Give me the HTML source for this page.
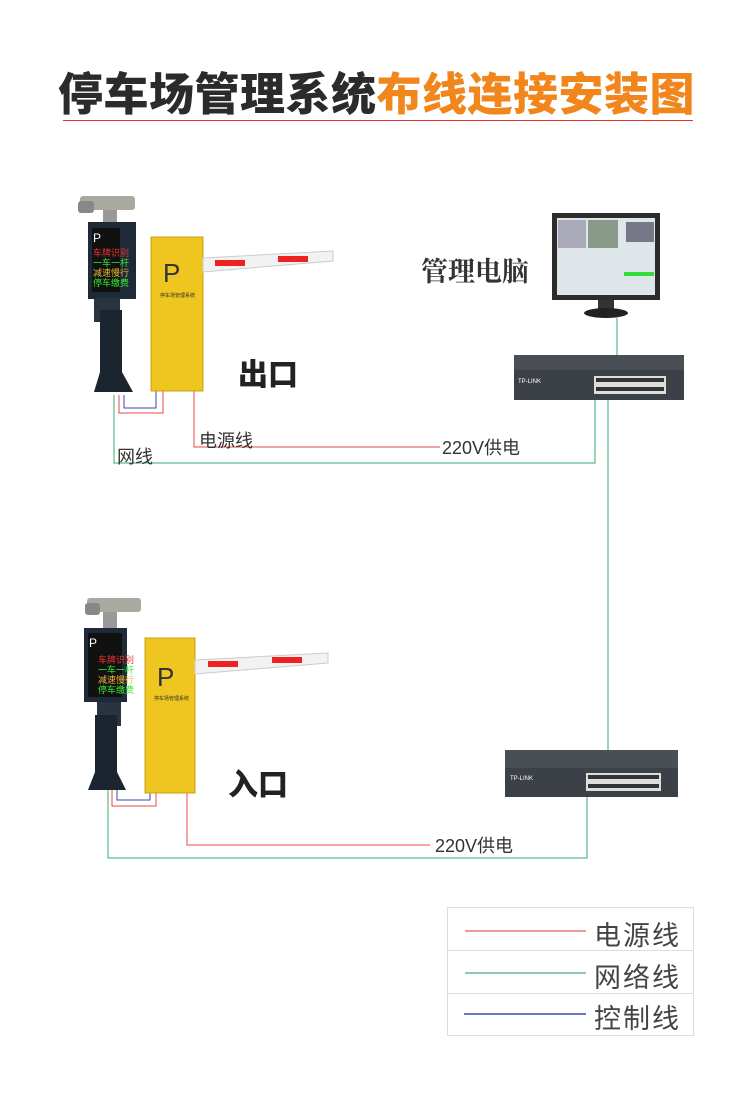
<!DOCTYPE html>
<html><head><meta charset="utf-8"><style>
body{margin:0;width:750px;height:1101px;background:#fff;position:relative;overflow:hidden;font-family:"Liberation Sans","Noto Sans CJK SC",sans-serif}
.a{position:absolute}
.t{font-family:"Noto Sans CJK SC",sans-serif;font-weight:900}
</style></head><body>
<div class="a t" style="left:58px;top:58px;font-size:45px;letter-spacing:0.5px;white-space:nowrap;line-height:66px;color:#2b2b2b">停车场管理系统<span style="color:#f0861c">布线连接安装图</span></div>
<div class="a" style="left:63px;top:120px;width:630px;height:1px;background:#e03030"></div>

<svg class="a" style="left:0;top:0" width="750" height="1101">
<polyline points="124,395 124,408 156,408 156,391" fill="none" stroke="#3a4aa8" stroke-width="1"/>
<polyline points="119,395 119,413 163,413 163,391" fill="none" stroke="#e84a4a" stroke-width="1"/>
<polyline points="194,391 194,447 440,447" fill="none" stroke="#e84a4a" stroke-width="1"/>
<polyline points="114,395 114,463 595,463 595,400" fill="none" stroke="#3aa870" stroke-width="1"/>
<line x1="608" y1="400" x2="608" y2="760" stroke="#3aa870"/>
<line x1="617" y1="318" x2="617" y2="380" stroke="#3aa870"/>
<polyline points="117,790 117,800 150,800 150,793" fill="none" stroke="#3a4aa8"/>
<polyline points="112,790 112,806 156,806 156,793" fill="none" stroke="#e84a4a"/>
<polyline points="187,793 187,845 430,845" fill="none" stroke="#e84a4a"/>
<polyline points="108,790 108,858 587,858 587,797" fill="none" stroke="#3aa870"/>

<rect x="80" y="196" width="55" height="14" rx="3" fill="#a9a9a0"/><rect x="78" y="201" width="16" height="12" rx="3" fill="#888"/>
<rect x="103" y="210" width="14" height="12" fill="#999"/>
<rect x="88" y="222" width="48" height="77" fill="#1e2a38"/>
<rect x="92" y="228" width="28" height="64" fill="#111"/>
<text x="93" y="242" font-size="12" fill="#fff">P</text>
<text x="93" y="256" font-size="9" fill="#e33">车牌识别</text>
<text x="93" y="266" font-size="9" fill="#3e3">一车一杆</text>
<text x="93" y="276" font-size="9" fill="#eb3">减速慢行</text>
<text x="93" y="286" font-size="9" fill="#3e3">停车缴费</text>
<rect x="94" y="298" width="26" height="24" fill="#2a3340"/>
<rect x="100" y="310" width="22" height="66" fill="#1b2530"/>
<polygon points="100,372 122,372 133,392 94,392" fill="#1b2530"/>
<rect x="151" y="237" width="52" height="154" fill="#efc51f" stroke="#c9a010"/>
<text x="163" y="282" font-size="26" fill="#333">P</text>
<text x="160" y="297" font-size="5" fill="#333">停车场管理系统</text>
<polygon points="203,258 333,251 333,261 203,272" fill="#f2f2f2" stroke="#ccc"/>
<rect x="215" y="260" width="30" height="6" fill="#e22"/><rect x="278" y="256" width="30" height="6" fill="#e22"/>
<rect x="552" y="213" width="108" height="87" fill="#2c2c2c"/>
<rect x="557" y="218" width="98" height="77" fill="#dfe6ea"/>
<rect x="558" y="220" width="28" height="28" fill="#aab"/><rect x="588" y="220" width="30" height="28" fill="#8a9a8a"/><rect x="626" y="222" width="28" height="20" fill="#778"/>
<rect x="624" y="272" width="30" height="4" fill="#3d3"/>
<rect x="598" y="300" width="16" height="10" fill="#333"/><ellipse cx="606" cy="313" rx="22" ry="5" fill="#222"/>
<rect x="514" y="355" width="170" height="18" fill="#4a4f56"/><rect x="514" y="370" width="170" height="30" fill="#3c4148"/>
<rect x="594" y="376" width="72" height="18" fill="#ddd"/>
<g fill="#333"><rect x="596" y="378" width="68" height="4"/><rect x="596" y="387" width="68" height="4"/></g>
<text x="518" y="383" font-size="6" fill="#fff">TP-LINK</text>
<rect x="505" y="750" width="173" height="20" fill="#4a4f56"/><rect x="505" y="768" width="173" height="29" fill="#3c4148"/>
<rect x="586" y="773" width="75" height="18" fill="#ddd"/>
<g fill="#333"><rect x="588" y="775" width="71" height="4"/><rect x="588" y="784" width="71" height="4"/></g>
<text x="510" y="780" font-size="6" fill="#fff">TP-LINK</text>

<rect x="87" y="598" width="54" height="14" rx="3" fill="#a9a9a0"/><rect x="85" y="603" width="15" height="12" rx="3" fill="#888"/>
<rect x="103" y="612" width="14" height="16" fill="#999"/>
<rect x="84" y="628" width="43" height="74" fill="#1e2a38"/>
<rect x="88" y="633" width="34" height="64" fill="#111"/>
<text x="89" y="647" font-size="12" fill="#fff">P</text>
<text x="98" y="663" font-size="9" fill="#e33">车牌识别</text>
<text x="98" y="673" font-size="9" fill="#3e3">一车一杆</text>
<text x="98" y="683" font-size="9" fill="#eb3">减速慢行</text>
<text x="98" y="693" font-size="9" fill="#3e3">停车缴费</text>
<rect x="97" y="702" width="24" height="24" fill="#2a3340"/>
<rect x="95" y="715" width="22" height="62" fill="#1b2530"/>
<polygon points="95,772 117,772 126,790 88,790" fill="#1b2530"/>
<rect x="145" y="638" width="50" height="155" fill="#efc51f" stroke="#c9a010"/>
<text x="157" y="686" font-size="26" fill="#333">P</text>
<text x="154" y="700" font-size="5" fill="#333">停车场管理系统</text>
<polygon points="195,660 328,653 328,663 195,674" fill="#f2f2f2" stroke="#ccc"/>
<rect x="208" y="661" width="30" height="6" fill="#e22"/><rect x="272" y="657" width="30" height="6" fill="#e22"/>

<rect x="447.5" y="907.5" width="246" height="128" fill="none" stroke="#ddd"/>
<line x1="448" y1="950.5" x2="693" y2="950.5" stroke="#ddd"/><line x1="448" y1="993.5" x2="693" y2="993.5" stroke="#ddd"/>
<line x1="465" y1="931" x2="586" y2="931" stroke="#e03030"/>
<line x1="465" y1="973" x2="586" y2="973" stroke="#1a9a5a"/>
<line x1="464" y1="1014" x2="586" y2="1014" stroke="#3a4aa8" stroke-width="1.5"/>
</svg>

<div class="a t" style="left:238px;top:350px;font-size:30px;color:#222">出口</div>
<div class="a t" style="left:228px;top:760px;font-size:30px;color:#222">入口</div>
<div class="a" style="left:421px;top:250px;font-size:27px;font-weight:bold;color:#333;font-family:'Noto Serif CJK SC',serif">管理电脑</div>
<div class="a" style="left:199px;top:427px;font-size:18px;color:#333">电源线</div>
<div class="a" style="left:117px;top:443px;font-size:18px;color:#333">网线</div>
<div class="a" style="left:442px;top:434px;font-size:18px;color:#333">220V供电</div>
<div class="a" style="left:435px;top:832px;font-size:18px;color:#333">220V供电</div>
<div class="a" style="left:594px;top:914px;font-size:27px;color:#444;letter-spacing:2px">电源线</div>
<div class="a" style="left:594px;top:956px;font-size:27px;color:#444;letter-spacing:2px">网络线</div>
<div class="a" style="left:594px;top:997px;font-size:27px;color:#444;letter-spacing:2px">控制线</div>
</body></html>
